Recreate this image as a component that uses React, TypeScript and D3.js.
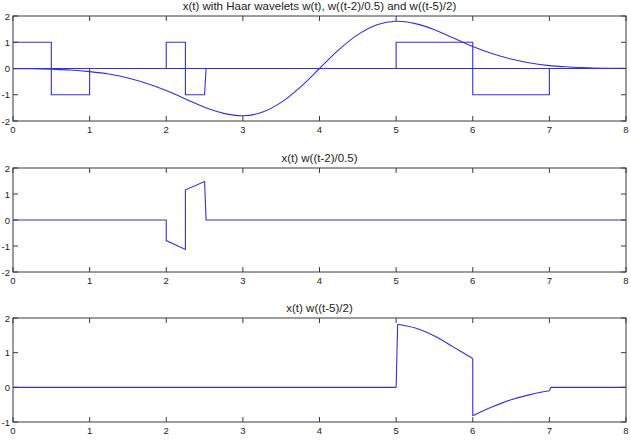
import React from "react";
import * as d3 from "d3";

const tSamples = [0, 0.25, 0.5, 0.75, 1, 1.25, 1.5, 1.75, 2, 2.25, 2.5, 2.75, 3, 3.25, 3.5, 3.75, 4, 4.25, 4.5, 4.75, 5, 5.25, 5.5, 5.75, 6, 6.25, 6.5, 6.75, 7, 7.25, 7.5, 7.75, 8];
const xSamples = [-0.01, -0.01, -0.03, -0.06, -0.12, -0.21, -0.36, -0.57, -0.84, -1.16, -1.48, -1.71, -1.8, -1.67, -1.29, -0.71, 0, 0.71, 1.29, 1.67, 1.8, 1.71, 1.48, 1.16, 0.84, 0.57, 0.36, 0.21, 0.11, 0.06, 0.03, 0.01, 0.01];

// Haar wavelets (step breakpoints)
const w1T = [0, 0.5, 0.5, 1, 1, 8];
const w1V = [1, 1, -1, -1, 0, 0];
const w2T = [0, 2, 2, 2.25, 2.25, 2.5, 2.52, 8];
const w2V = [0, 0, 1, 1, -1, -1, 0, 0];
const w3T = [0, 5, 5, 6, 6, 7, 7, 8];
const w3V = [0, 0, 1, 1, -1, -1, 0, 0];

// Product x(t) w((t-2)/0.5)
const p2T = [0, 2, 2, 2.25, 2.25, 2.5, 2.52, 8];
const p2V = [0, 0, -0.79, -1.13, 1.16, 1.48, 0, 0];

// Product x(t) w((t-5)/2): flat parts, positive lobe, negative lobe
const p3FlatT = [0, 5.0];
const p3FlatV = [0, 0];
const p3PosT = [5.02, 5.25, 5.5, 5.75, 6];
const p3PosV = [1.82, 1.71, 1.48, 1.16, 0.83];
const p3NegT = [6.0, 6.25, 6.5, 6.75, 7];
const p3NegV = [-0.82, -0.57, -0.36, -0.21, -0.1];
const p3JumpT = [5, 5.02];
const p3JumpV = [0, 1.82];
const p3DropT = [6, 6];
const p3DropV = [0.83, -0.82];
const p3TailT = [7, 7.02, 8];
const p3TailV = [-0.1, 0, 0];

const xTicks = [0, 1, 2, 3, 4, 5, 6, 7, 8];

const titles = [
  "x(t) with Haar wavelets w(t), w((t-2)/0.5) and w((t-5)/2)",
  "x(t) w((t-2)/0.5)",
  "x(t) w((t-5)/2)",
];

const W = 631;
const H = 445;
const LINE = "#3030e4";
const AX = "#3a3a3a";
const FONT = "'Liberation Sans', Arial, sans-serif";

type Series = { t: number[]; v: number[]; smooth?: boolean };
type Panel = {
  top: number;
  bottom: number;
  yDomain: [number, number];
  yTicks: number[];
  title: string;
  series: Series[];
};

const panels: Panel[] = [
  {
    top: 16,
    bottom: 121,
    yDomain: [-2, 2],
    yTicks: [-2, -1, 0, 1, 2],
    title: titles[0],
    series: [
      { t: tSamples, v: xSamples, smooth: true },
      { t: w1T, v: w1V },
      { t: w2T, v: w2V },
      { t: w3T, v: w3V },
    ],
  },
  {
    top: 168,
    bottom: 272,
    yDomain: [-2, 2],
    yTicks: [-2, -1, 0, 1, 2],
    title: titles[1],
    series: [{ t: p2T, v: p2V }],
  },
  {
    top: 318,
    bottom: 422,
    yDomain: [-1, 2],
    yTicks: [-1, 0, 1, 2],
    title: titles[2],
    series: [
      { t: p3FlatT, v: p3FlatV },
      { t: p3JumpT, v: p3JumpV },
      { t: p3PosT, v: p3PosV, smooth: true },
      { t: p3DropT, v: p3DropV },
      { t: p3NegT, v: p3NegV, smooth: true },
      { t: p3TailT, v: p3TailV },
    ],
  },
];

const x = d3.scaleLinear().domain([0, 8]).range([13, 626]);

function PanelView({ p }: { p: Panel }) {
  const y = d3.scaleLinear().domain(p.yDomain).range([p.bottom, p.top]);
  const tick = 5;
  return (
    <g>
      {p.series.map((s, i) => {
        const pts: [number, number][] = s.t.map((tt, k) => [tt, s.v[k]]);
        const gen = d3
          .line<[number, number]>()
          .x((d) => x(d[0]))
          .y((d) => y(d[1]))
          .curve(s.smooth ? d3.curveCatmullRom : d3.curveLinear);
        return <path key={i} d={gen(pts) || ""} fill="none" stroke={LINE} strokeWidth={1.1} />;
      })}
      <rect
        x={x(0)}
        y={p.top}
        width={x(8) - x(0)}
        height={p.bottom - p.top}
        fill="none"
        stroke={AX}
        strokeWidth={1}
      />
      {xTicks.map((v) => (
        <g key={"x" + v}>
          <line x1={x(v)} x2={x(v)} y1={p.bottom} y2={p.bottom - tick} stroke={AX} />
          <line x1={x(v)} x2={x(v)} y1={p.top} y2={p.top + tick} stroke={AX} />
          <text
            x={x(v)}
            y={p.bottom + 12}
            textAnchor="middle"
            fontSize={9.5}
            fontFamily={FONT}
            fill="#222"
          >
            {v}
          </text>
        </g>
      ))}
      {p.yTicks.map((v) => (
        <g key={"y" + v}>
          <line x1={x(0)} x2={x(0) + tick} y1={y(v)} y2={y(v)} stroke={AX} />
          <line x1={x(8)} x2={x(8) - tick} y1={y(v)} y2={y(v)} stroke={AX} />
          <text
            x={x(0) - 3}
            y={y(v) + 3.5}
            textAnchor="end"
            fontSize={9.5}
            fontFamily={FONT}
            fill="#222"
          >
            {v}
          </text>
        </g>
      ))}
      <text
        x={(x(0) + x(8)) / 2}
        y={p.top - 6}
        textAnchor="middle"
        fontSize={11.5}
        fontFamily={FONT}
        fill="#222"
      >
        {p.title}
      </text>
    </g>
  );
}

export default function App() {
  return (
    <div style={{ position: "absolute", left: 0, top: 0 }}>
      <svg width={W} height={H} style={{ display: "block", background: "#fff" }}>
        {panels.map((p, i) => (
          <PanelView key={i} p={p} />
        ))}
      </svg>
    </div>
  );
}
